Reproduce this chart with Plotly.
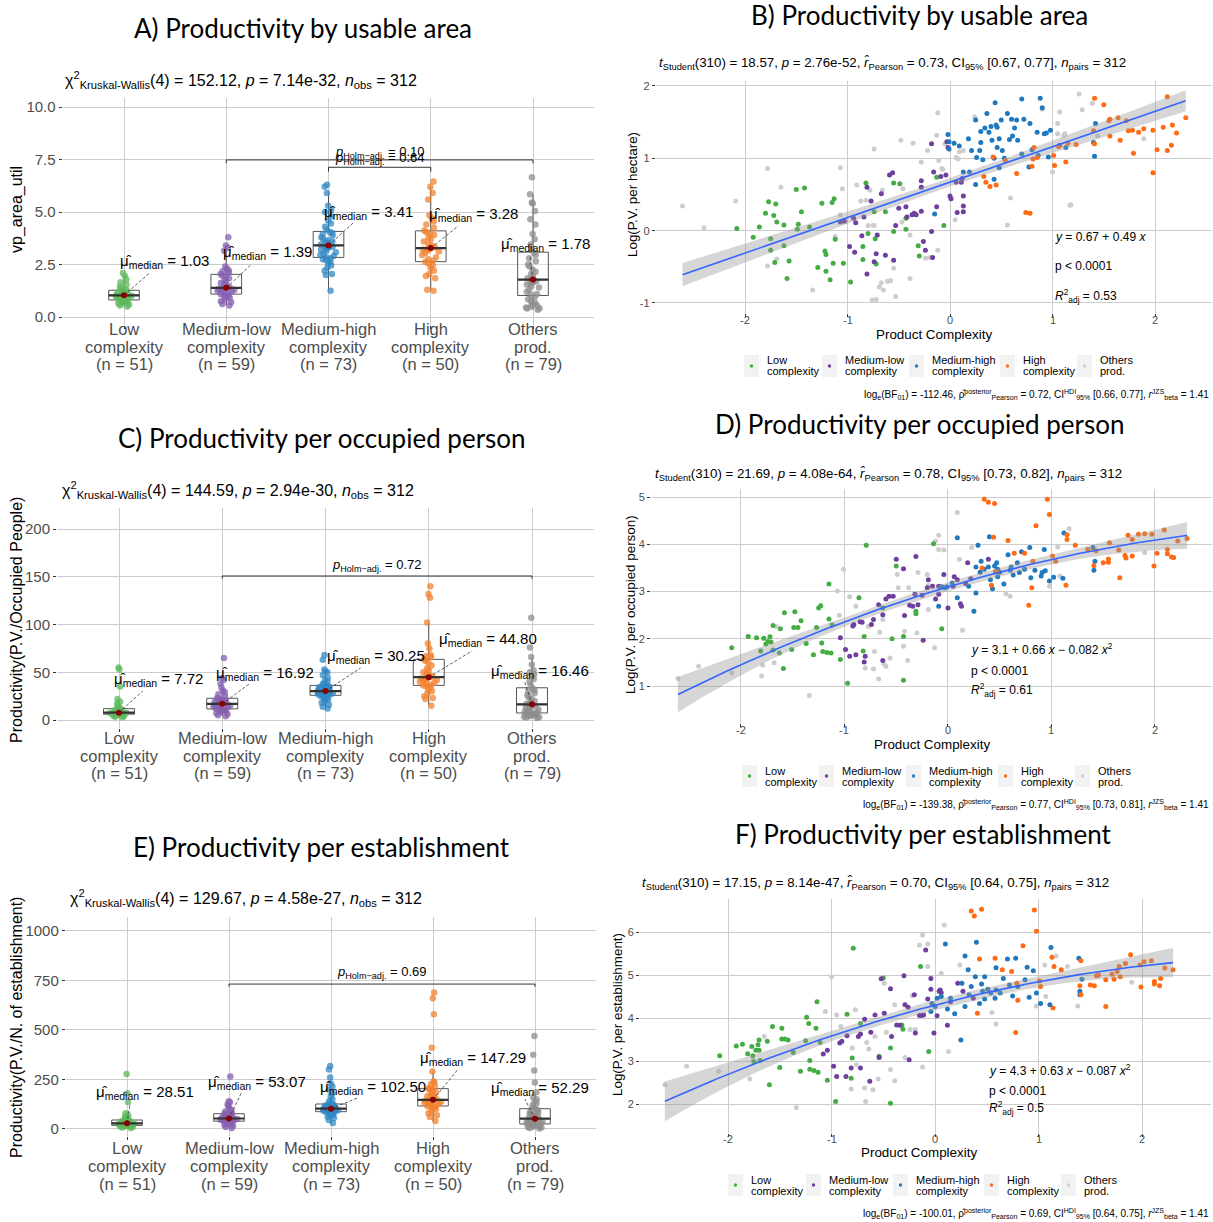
import numpy as np
import plotly.graph_objects as go

W, H = 1213, 1222
FONT = "Liberation Sans, Arial, sans-serif"
NARROW = "Liberation Sans Narrow, Liberation Sans, Arial, sans-serif"
TFONT = "Lato, Liberation Sans, sans-serif"

# ---------------- categories / labels ----------------
cat_line1 = ["Low", "Medium-low", "Medium-high", "High", "Others"]
cat_line2 = ["complexity", "complexity", "complexity", "complexity", "prod."]
cat_n = [51, 59, 73, 50, 79]

box_colors = ["#5CB85A", "#8560B0", "#3288C4", "#F2812F", "#8E8E8E"]
pt_colors = ["#45AC43", "#6E3F9E", "#2079BF", "#FF6A12", "#CDCDCD"]

# ---------------- A) vp_area_util ----------------
A_low = [0.50, 0.55, 0.60, 0.65, 0.68, 0.72, 0.75, 0.78, 0.80, 0.85, 0.88, 0.92, 0.95, 0.98, 1.00, 1.01, 1.02, 1.03,
         1.05, 1.08, 1.10, 1.12, 1.15, 1.18, 1.22, 1.25, 1.28, 1.30, 1.35, 1.45, 1.55, 1.65, 1.80, 1.95, 2.10]
A_medlow = [0.55, 0.62, 0.70, 0.75, 0.82, 0.90, 0.95, 1.00, 1.05, 1.08, 1.12, 1.15, 1.20, 1.25, 1.28, 1.30, 1.33, 1.35,
            1.37, 1.39, 1.42, 1.48, 1.55, 1.62, 1.70, 1.78, 1.85, 1.92, 1.98, 2.05, 2.12, 2.18, 2.22, 2.30, 2.40, 3.15,
            3.30, 3.40, 3.80]
A_medhigh = [1.25, 2.00, 2.05, 2.20, 2.35, 2.45, 2.55, 2.62, 2.70, 2.75, 2.80, 2.85, 2.90, 2.95, 3.00, 3.08, 3.15, 3.20,
             3.25, 3.30, 3.35, 3.38, 3.41, 3.45, 3.50, 3.55, 3.60, 3.65, 3.72, 3.80, 3.88, 3.95, 4.00, 4.05, 4.15, 4.30,
             4.45, 4.60, 4.80, 5.00, 5.10, 5.30, 5.90, 6.20, 6.30]
A_high = [1.25, 1.30, 1.85, 1.95, 2.05, 2.20, 2.35, 2.45, 2.55, 2.62, 2.68, 2.75, 2.85, 2.95, 3.05, 3.12, 3.18, 3.22,
          3.25, 3.28, 3.32, 3.40, 3.50, 3.60, 3.70, 3.80, 3.90, 3.98, 4.05, 4.12, 4.25, 4.40, 4.55, 4.70, 4.85, 5.60,
          5.90, 6.20, 6.45]
A_others = [0.35, 0.40, 0.42, 0.45, 0.50, 0.55, 0.60, 0.68, 0.75, 0.85, 0.95, 1.05, 1.10, 1.20, 1.30, 1.40, 1.48, 1.55,
            1.60, 1.65, 1.70, 1.75, 1.78, 1.85, 1.95, 2.05, 2.15, 2.25, 2.40, 2.50, 2.65, 2.80, 2.95, 3.05, 3.20, 3.45,
            3.70, 3.95, 4.40, 4.65, 5.05, 5.40, 5.45, 5.85, 6.65]

# ---------------- C) per occupied person ----------------
C_low = [3, 3.5, 4, 4.5, 5, 5.2, 5.5, 5.8, 6, 6.3, 6.6, 6.9, 7, 7.2, 7.4, 7.5, 7.6, 7.72, 8, 8.5, 9, 9.5, 10, 10.5, 11,
         11.5, 12, 13, 15, 17, 19, 22, 35, 53, 55]
C_medlow = [4, 5, 6, 7, 8, 9, 10, 10.5, 11, 11.5, 12, 13, 13.5, 14, 14.5, 15, 15.5, 16, 16.5, 16.92, 17.5, 18, 18.5, 19,
            19.5, 20, 21, 21.5, 22, 23, 25, 27, 29, 31, 34, 38, 42, 44, 65]
C_medhigh = [12, 14, 16, 18, 20, 21, 22, 23, 24, 25, 25.5, 26, 26.5, 27, 27.5, 28, 28.5, 29, 29.2, 29.5, 29.8, 30, 30.25,
             30.5, 31, 31.5, 32, 32.5, 33, 33.5, 34, 34.5, 35, 36, 37, 38, 40, 42, 44, 47, 50, 51, 53, 63, 68]
C_high = [15, 22, 23, 25, 28, 30, 32, 34, 35, 36, 37, 38, 39, 40, 41, 42, 43, 43.5, 44, 44.8, 45.5, 47, 48, 50, 52, 54,
          57, 60, 62, 64, 66, 67, 68, 75, 80, 102, 128, 132, 140]
C_others = [2, 2.5, 3, 3.5, 4, 4.5, 5, 5.5, 6, 6.5, 7, 7.5, 8, 9, 10, 11, 12, 13, 14, 14.5, 15, 16, 16.46, 17, 18, 19, 20,
            22, 24, 26, 28, 30, 31, 33, 36, 40, 43, 46, 48, 50, 52, 58, 66, 76, 107]

# ---------------- E) per establishment ----------------
E_low = [5, 8, 10, 12, 14, 15, 16, 17, 18, 19, 20, 21, 22, 24, 25, 26, 27, 28.51, 30, 32, 34, 36, 38, 40, 42, 44, 46, 50,
         55, 60, 70, 80, 135, 180, 278]
E_medlow = [5, 10, 15, 20, 25, 28, 32, 35, 37, 39, 41, 43, 45, 47, 48, 50, 51, 52, 52.5, 53.07, 55, 57, 59, 61, 63, 66,
            69, 72, 75, 78, 82, 88, 95, 105, 115, 125, 135, 140, 265]
E_medhigh = [30, 45, 55, 62, 68, 72, 76, 80, 82, 84, 86, 88, 90, 92, 94, 96, 97, 98, 99, 100, 101, 102, 102.5, 104, 106,
             108, 110, 112, 114, 116, 118, 120, 122, 125, 130, 140, 150, 165, 180, 200, 215, 230, 260, 300, 318]
E_high = [40, 60, 70, 80, 90, 100, 105, 110, 112, 115, 120, 125, 128, 132, 135, 138, 140, 143, 145, 147.29, 150, 155, 160,
          165, 170, 178, 185, 192, 200, 205, 215, 225, 235, 240, 290, 410, 580, 660, 690]
E_others = [3, 5, 8, 10, 12, 15, 18, 20, 22, 24, 25, 26, 28, 30, 33, 36, 38, 41, 44, 46, 48, 50, 52.29, 55, 58, 62, 66,
            70, 75, 80, 85, 90, 95, 100, 110, 120, 130, 140, 150, 160, 185, 235, 295, 375, 470]

# ---------------- B) log per hectare vs complexity ----------------
B_low_x = [-2.08, -1.92, -1.86, -1.80, -1.77, -1.75, -1.75, -1.72, -1.70, -1.69, -1.71, -1.62, -1.62, -1.59, -1.57, -1.50,
           -1.49, -1.48, -1.45, -1.42, -1.37, -1.29, -1.25, -1.22, -1.21, -1.21, -1.17, -1.15, -1.13, -1.14, -1.12, -1.04,
           -0.97, -0.85, -0.85, -0.82, -0.80, -0.73, -0.72, -0.74, -0.63, -0.55, -0.55, -0.49, -0.43, -0.43, -0.31, -0.30,
           -0.13, -0.06]
B_low_y = [0.03, -0.09, 0.05, 0.24, 0.40, -0.11, -0.27, 0.21, 0.37, 0.12, -0.44, -0.21, 0.08, -0.66, -0.42, 0.57, 0.02,
           0.09, 0.26, 0.59, 0.05, -0.51, 0.38, -0.28, -0.33, -0.56, -0.68, 0.39, 0.44, -0.45, -0.12, -0.45, -0.71, -0.22,
           -0.40, 0.66, -0.04, -0.11, -0.46, 0.26, 0.26, 0.66, -0.01, 0.65, 0.17, 0.02, -0.21, -0.35, 0.74, 0.07]
B_medlow_x = [-1.03, -1.07, -0.98, -0.93, -0.94, -0.92, -0.86, -0.84, -0.81, -0.81, -0.77, -0.74, -0.72, -0.71, -0.67,
              -0.63, -0.59, -0.56, -0.55, -0.53, -0.50, -0.43, -0.42, -0.37, -0.35, -0.33, -0.28, -0.28, -0.28, -0.26,
              -0.24, -0.18, -0.18, -0.13, -0.16, -0.09, -0.04, -0.02, -0.03, 0.00, 0.01, 0.06, 0.07, 0.11, 0.13, 0.13,
              0.13, 0.12, -0.17]
B_medlow_y = [0.13, 0.12, -0.22, -0.30, 0.17, 0.11, -0.07, 0.19, 0.60, -0.60, 0.41, -0.43, -0.32, -0.06, 0.51, -0.34,
              0.77, 0.80, -0.41, 0.07, 0.31, 0.33, 0.19, 0.22, 0.24, 0.22, 0.27, 0.69, 0.60, -0.15, -0.27, -0.01, 1.20,
              0.33, 0.81, 0.75, 0.77, 1.15, 1.23, 0.48, 0.44, 0.67, 0.25, 0.67, 0.26, 0.34, 0.48, 0.72, -0.37]
B_medhigh_x = [-0.15, -0.02, -0.01, -0.01, 0.04, 0.09, 0.13, 0.18, 0.19, 0.25, 0.26, 0.25, 0.29, 0.30, 0.32, 0.30, 0.34,
               0.36, 0.38, 0.40, 0.41, 0.43, 0.44, 0.45, 0.46, 0.46, 0.48, 0.48, 0.50, 0.53, 0.56, 0.58, 0.60, 0.61, 0.63,
               0.65, 0.66, 0.70, 0.72, 0.70, 0.77, 0.78, 0.80, 0.86, 0.88, 0.90, 0.92, 0.94, 0.96, 0.98, 1.07, 1.13, 1.40,
               1.42, 1.41, 0.43, 0.51, 0.21, 0.85]
B_medhigh_y = [0.23, 1.33, 1.23, 1.13, 1.21, 1.17, 0.81, 1.27, 0.81, 1.53, 1.01, 0.64, 1.11, 1.22, 0.98, 1.37, 1.42,
               1.62, 1.36, 1.44, 1.25, 0.71, 1.77, 1.46, 1.15, 1.43, 1.27, 0.87, 1.53, 1.00, 1.62, 1.26, 1.54, 1.31, 1.42,
               1.53, 1.25, 1.82, 1.54, 1.06, 0.88, 1.48, 1.12, 1.04, 1.83, 1.70, 1.34, 1.35, 1.02, 1.39, 1.18, 1.15, 1.22,
               1.48, 1.03, 1.00, 1.11, 1.11, 1.36]
B_high_x = [0.33, 0.35, 0.39, 0.42, 0.45, 0.54, 0.65, 0.74, 0.78, 0.81, 0.82, 0.85, 0.80, 1.01, 1.02, 1.06, 1.13, 1.15,
            1.23, 1.41, 1.40, 1.41, 1.50, 1.55, 1.56, 1.56, 1.64, 1.66, 1.72, 1.74, 1.78, 1.79, 1.84, 1.89, 1.98, 1.98,
            2.02, 2.08, 2.12, 2.12, 2.17, 2.16, 2.21, 2.30]
B_high_y = [0.75, 0.67, 0.61, 1.02, 0.63, 0.97, 0.79, 0.25, 0.24, 0.99, 1.15, 1.01, 0.89, 1.04, 0.90, 1.16, 0.95, 1.21,
            1.19, 1.83, 1.38, 1.20, 1.74, 1.52, 1.54, 1.31, 1.56, 1.25, 1.52, 1.38, 1.39, 1.07, 1.36, 1.41, 1.39, 0.80,
            1.12, 1.43, 1.85, 1.11, 1.46, 1.18, 1.35, 1.56]
B_others_x = [-2.61, -2.40, -2.09, -1.78, -1.78, -1.65, -1.69, -1.34, -1.07, -1.05, -1.07, -1.12, -0.91, -0.87, -0.78,
              -0.74, -0.74, -0.76, -0.72, -0.67, -0.65, -0.61, -0.58, -0.55, -0.53, -0.48, -0.39, -0.36, -0.28, -0.28,
              -0.22, -0.20, -0.13, -0.12, -0.12, -0.11, -0.08, -0.05, 0.05, 0.08, 0.13, 0.24, 0.56, 0.59, 0.90, 1.00,
              1.07, 1.05, 1.11, 1.17, 1.26, 1.29, 1.39, 1.44, 1.89, -0.46, -0.24, -0.80, -0.75, -0.66, -0.47, -0.39,
              -0.82, 0.09, 0.06, 1.05, 1.12, -0.07, -0.69, 1.18]
B_others_y = [0.34, 0.04, 0.41, 0.86, -0.49, 0.60, -0.39, -0.82, 0.87, 0.58, 0.22, -0.08, 0.63, 0.41, 0.56, 1.13, 0.07,
              -0.96, -0.95, -0.72, -0.82, -0.70, -0.69, -0.52, -0.91, 1.25, -0.66, 1.21, 0.95, 0.60, 1.11, -0.37, 1.32,
              1.63, -0.27, 0.97, 0.86, 1.20, 0.15, 0.99, 1.11, 1.57, 0.08, 0.45, 1.68, 0.81, 1.64, 1.48, 1.32, 0.35,
              1.89, 1.67, 1.76, 1.31, 1.27, 0.58, -0.38, 0.07, 0.07, 0.56, 0.12, -0.06, 0.42, 1.09, 1.01, 1.34, 1.34,
              0.85, -0.78, 0.36]

# ---------------- D) log per occupied person ----------------
D_low_x = [-2.09, -1.93, -1.85, -1.81, -1.78, -1.76, -1.74, -1.72, -1.71, -1.69, -1.69, -1.63, -1.62, -1.59, -1.58, -1.51,
           -1.49, -1.48, -1.45, -1.42, -1.37, -1.30, -1.27, -1.25, -1.23, -1.22, -1.21, -1.17, -1.13, -1.15, -1.15, -1.12,
           -1.04, -0.97, -0.86, -0.82, -0.81, -0.79, -0.63, -0.54, -0.50, -0.43, -0.43, -0.31, -0.31, -0.14, -0.06]
D_low_y = [1.81, 2.05, 2.02, 1.74, 2.01, 1.89, 1.94, 2.04, 1.93, 2.28, 1.76, 1.70, 2.21, 1.37, 2.55, 1.77, 2.24, 2.57,
           2.24, 2.38, 1.90, 1.66, 2.24, 2.65, 2.70, 1.91, 1.73, 1.71, 1.70, 2.42, 3.16, 2.29, 1.56, 1.06, 2.87, 1.74,
           2.05, 3.98, 2.65, 2.00, 3.54, 2.05, 1.12, 2.58, 2.53, 4.01, 2.21]
D_medlow_x = [-1.04, -0.99, -0.95, -0.92, -0.91, -0.89, -0.85, -0.83, -0.81, -0.80, -0.74, -0.72, -0.67, -0.63, -0.63,
              -0.60, -0.57, -0.53, -0.50, -0.43, -0.42, -0.37, -0.34, -0.32, -0.31, -0.29, -0.24, -0.25, -0.20, -0.19,
              -0.15, -0.12, -0.09, -0.09, -0.04, 0.00, 0.05, 0.06, 0.09, 0.12, 0.13, 0.17, 0.19, 0.22, 0.39, 0.46]
D_medlow_y = [2.02, 1.77, 1.63, 2.27, 2.30, 1.66, 2.36, 2.35, 1.51, 1.63, 2.30, 2.41, 2.72, 1.54, 2.51, 2.84, 2.90, 2.90,
              3.68, 3.48, 2.49, 2.71, 2.69, 2.94, 3.74, 2.72, 1.97, 2.92, 3.08, 3.25, 3.11, 2.84, 3.11, 2.94, 3.36, 2.65,
              3.11, 3.31, 3.25, 2.74, 2.69, 3.17, 3.61, 3.27, 3.68, 3.42]
D_medhigh_x = [-0.09, -0.06, -0.03, -0.01, 0.04, 0.09, 0.09, 0.20, 0.25, 0.27, 0.27, 0.29, 0.31, 0.32, 0.35, 0.39, 0.40,
               0.41, 0.43, 0.45, 0.47, 0.48, 0.48, 0.50, 0.54, 0.58, 0.60, 0.61, 0.63, 0.67, 0.69, 0.71, 0.74, 0.79, 0.80,
               0.84, 0.90, 0.91, 0.93, 0.94, 0.98, 1.02, 1.12, 1.11, 1.40, 1.41, 1.42]
D_medhigh_y = [2.69, 3.10, 3.08, 3.10, 3.18, 2.87, 4.14, 3.11, 2.58, 2.97, 3.52, 3.98, 3.41, 3.64, 3.47, 3.52, 4.16,
               3.25, 3.06, 3.54, 3.61, 3.47, 3.31, 3.41, 3.16, 3.78, 3.45, 3.52, 3.35, 3.61, 3.40, 3.84, 3.47, 3.93, 3.29,
               3.45, 3.33, 3.40, 3.89, 3.44, 3.22, 3.30, 4.24, 3.28, 3.93, 3.45, 3.64]
D_high_x = [0.33, 0.35, 0.39, 0.45, 0.42, 0.44, 0.47, 0.58, 0.64, 0.74, 0.78, 0.81, 0.82, 0.85, 0.96, 0.98, 1.01, 1.04,
            1.14, 1.15, 1.15, 1.23, 1.35, 1.41, 1.43, 1.50, 1.55, 1.56, 1.55, 1.65, 1.66, 1.71, 1.74, 1.72, 1.78, 1.78,
            1.84, 1.90, 1.97, 1.99, 2.02, 2.09, 2.12, 2.12, 2.16, 2.18, 2.22, 2.31]
D_high_y = [3.50, 4.95, 4.89, 4.86, 3.13, 4.15, 3.42, 4.08, 3.81, 3.81, 2.71, 3.08, 3.64, 4.39, 4.95, 4.63, 3.75, 3.64,
            3.13, 4.20, 4.10, 3.98, 3.89, 3.55, 3.86, 3.61, 3.62, 4.03, 3.69, 3.88, 3.29, 3.76, 4.19, 3.71, 3.75, 4.10,
            4.21, 4.22, 4.21, 3.54, 3.81, 4.30, 3.89, 3.80, 3.73, 3.72, 4.07, 4.12]
D_others_x = [-2.61, -2.41, -2.09, -1.80, -1.79, -1.68, -1.66, -1.34, -1.07, -1.05, -1.01, -0.95, -0.89, -0.80, -0.77,
              -0.72, -0.71, -0.67, -0.66, -0.63, -0.62, -0.60, -0.56, -0.49, -0.43, -0.42, -0.39, -0.38, -0.30, -0.29,
              -0.20, -0.19, -0.13, -0.12, -0.09, -0.09, -0.04, 0.09, 0.11, 0.14, 0.23, 0.56, 0.60, 0.98, 1.06, 1.17,
              1.08, 1.90, -0.48, -0.19]
D_others_y = [1.16, 1.42, 1.28, 1.21, 1.44, 1.49, 2.26, 0.80, 3.01, 2.50, 3.47, 2.89, 2.69, 1.38, 2.26, 1.36, 1.73, 1.15,
              2.14, 2.41, 1.47, 1.42, 1.59, 3.36, 1.84, 2.16, 1.54, 3.08, 2.12, 3.40, 3.36, 2.62, 1.81, 4.07, 3.89, 4.19,
              3.88, 4.67, 3.68, 2.18, 3.93, 2.95, 2.90, 3.11, 3.94, 4.33, 3.33, 3.82, 3.08, 3.13]

# ---------------- F) log per establishment ----------------
F_low_x = [-2.08, -1.92, -1.86, -1.81, -1.77, -1.76, -1.75, -1.73, -1.71, -1.70, -1.69, -1.70, -1.62, -1.60, -1.57, -1.50,
           -1.48, -1.48, -1.45, -1.42, -1.37, -1.30, -1.25, -1.24, -1.22, -1.21, -1.21, -1.17, -1.15, -1.13, -1.14, -1.11,
           -1.04, -0.96, -0.85, -0.81, -0.80, -0.79, -0.72, -0.54, -0.50, -0.43, -0.43, -0.32, -0.31, -0.14, -0.06]
F_low_y = [3.12, 3.35, 3.39, 3.17, 3.34, 3.12, 2.98, 3.25, 3.38, 3.25, 3.01, 3.49, 3.46, 2.45, 3.80, 2.85, 3.51, 3.76,
           3.51, 3.49, 3.20, 2.76, 3.47, 4.02, 3.87, 3.01, 2.81, 2.78, 3.76, 2.74, 4.38, 3.43, 2.55, 2.06, 4.09, 2.60,
           3.07, 5.62, 3.87, 3.11, 4.93, 3.30, 2.02, 3.84, 3.74, 5.20, 3.22]
F_medlow_x = [-1.08, -1.04, -0.98, -0.95, -0.92, -0.90, -0.86, -0.85, -0.81, -0.74, -0.72, -0.72, -0.68, -0.63, -0.62,
              -0.58, -0.54, -0.52, -0.49, -0.43, -0.42, -0.37, -0.34, -0.30, -0.29, -0.26, -0.25, -0.20, -0.19, -0.15,
              -0.13, -0.11, -0.09, -0.07, -0.04, -0.04, -0.01, 0.02, 0.04, 0.05, 0.06, 0.12, 0.15, 0.22, 0.27, 0.37]
F_medlow_y = [3.16, 3.25, 2.88, 2.64, 3.42, 3.46, 2.64, 3.59, 2.84, 3.57, 2.84, 3.63, 3.97, 2.53, 3.67, 4.07, 3.08, 4.91,
              4.11, 4.68, 3.57, 3.84, 3.83, 4.98, 4.31, 4.25, 3.03, 4.54, 3.65, 4.06, 4.06, 4.07, 5.58, 4.44, 4.92, 4.67,
              3.65, 4.05, 4.62, 4.65, 4.59, 3.83, 4.38, 4.81, 4.62, 4.46]
F_medhigh_x = [-0.04, -0.03, 0.00, 0.02, 0.06, 0.10, 0.12, 0.15, 0.19, 0.25, 0.26, 0.29, 0.29, 0.32, 0.33, 0.35, 0.39,
               0.40, 0.43, 0.45, 0.46, 0.48, 0.48, 0.51, 0.54, 0.58, 0.59, 0.59, 0.63, 0.66, 0.70, 0.72, 0.75, 0.78, 0.80,
               0.87, 0.89, 0.91, 0.95, 0.98, 1.02, 1.11, 1.12, 1.39, 1.40, 1.40, 1.42]
F_medhigh_y = [4.15, 4.34, 4.27, 4.46, 4.50, 5.72, 4.21, 4.46, 4.10, 3.49, 4.81, 5.44, 4.27, 5.12, 4.54, 4.73, 4.96,
               5.76, 4.34, 4.79, 4.62, 4.44, 4.96, 4.67, 4.58, 4.46, 5.17, 4.65, 4.58, 4.92, 5.37, 4.77, 4.51, 5.39, 4.73,
               4.89, 5.18, 4.48, 5.10, 4.58, 4.34, 4.31, 5.64, 5.39, 4.54, 4.62, 4.90]
F_high_x = [0.35, 0.38, 0.45, 0.41, 0.43, 0.58, 0.65, 0.74, 0.80, 0.78, 0.79, 0.85, 0.96, 0.98, 1.01, 1.02, 1.13, 1.15,
            1.14, 1.22, 1.41, 1.40, 1.41, 1.50, 1.54, 1.56, 1.58, 1.65, 1.65, 1.71, 1.73, 1.76, 1.78, 1.79, 1.84, 1.89,
            1.98, 1.99, 2.02, 2.09, 2.12, 2.12, 2.17, 2.18, 2.22, 2.30]
F_high_y = [6.49, 6.37, 6.53, 4.11, 5.37, 5.39, 5.12, 5.08, 4.41, 3.66, 4.81, 5.68, 6.51, 6.02, 4.86, 4.73, 5.41, 5.20,
            4.23, 5.12, 5.33, 4.75, 4.54, 4.77, 4.75, 4.98, 5.00, 4.27, 4.89, 5.02, 4.90, 5.08, 5.20, 4.96, 5.27, 5.47,
            5.23, 4.72, 5.31, 5.33, 4.85, 4.79, 4.75, 4.92, 5.16, 5.12]
F_others_x = [-2.61, -2.40, -2.09, -1.79, -1.76, -1.65, -1.34, -1.06, -1.00, -0.95, -0.91, -0.77, -0.80, -0.81, -0.76,
              -0.68, -0.67, -0.66, -0.64, -0.60, -0.58, -0.55, -0.49, -0.47, -0.43, -0.39, -0.39, -0.29, -0.22, -0.24,
              -0.19, -0.15, -0.12, -0.12, -0.07, -0.07, 0.06, 0.09, 0.13, 0.24, 0.55, 0.59, 0.98, 1.07, 1.17, 1.28, 1.38,
              1.90, 1.06]
F_others_y = [2.45, 2.88, 2.76, 2.58, 3.01, 3.57, 1.92, 4.15, 4.96, 4.07, 3.80, 4.19, 3.30, 2.35, 2.91, 2.37, 2.06, 3.43,
              3.28, 2.33, 3.57, 2.58, 4.81, 3.67, 2.80, 2.54, 4.31, 3.08, 4.52, 3.73, 3.73, 5.70, 5.93, 2.86, 5.72, 5.20,
              5.04, 6.16, 3.22, 5.23, 4.13, 3.86, 4.28, 4.50, 5.44, 5.20, 4.28, 4.83, 5.23]

# printed model coefficients (intercept, x, x^2) and stats text
fit_B = [0.67, 0.49]
fit_D = [3.1, 0.66, -0.082]
fit_F = [4.3, 0.63, -0.087]
r2_B, r2_D, r2_F = 0.53, 0.61, 0.5
scatter_xticks = [-2, -1, 0, 1, 2]

fig = go.Figure()
shapes = []
annotations = []
axes = {}


def lin(v0, p0, v1, p1):
    return lambda v: p0 + (v - v0) * (p1 - p0) / (v1 - v0)


def add_text(text, px, py, size, color="#000000", family=FONT, xanchor="center", yanchor="middle", angle=0):
    annotations.append(dict(text=text, x=px / W, y=1 - py / H, xref="paper", yref="paper", showarrow=False,
                            xanchor=xanchor, yanchor=yanchor, textangle=angle,
                            font=dict(size=size, color=color, family=family)))


def make_axes(i, xr, xmap, yr, ymap, xkw, ykw):
    s = "" if i == 1 else str(i)
    xd = [max(0, xmap(xr[0]) / W), min(1, xmap(xr[1]) / W)]
    yd = [max(0, 1 - ymap(yr[0]) / H), min(1, 1 - ymap(yr[1]) / H)]
    base = dict(showline=False, zeroline=False, showgrid=True, gridcolor="#CCCCCC", gridwidth=1,
                ticks="outside", ticklen=3, tickcolor="#333333", automargin=False, fixedrange=True)
    axes["xaxis" + s] = dict(base, domain=xd, range=list(xr), anchor="y" + s, **xkw)
    axes["yaxis" + s] = dict(base, domain=yd, range=list(yr), anchor="x" + s, **ykw)
    return ("x" + s, "y" + s)


def box_panel(i, data, cat_px, ypts, yr, yticks, yticktext, labpos, brackets, cat_label_py):
    xmap = lin(1, cat_px[0], 5, cat_px[1])
    ymap = lin(*ypts)
    ppu = abs((ypts[3] - ypts[1]) / (ypts[2] - ypts[0]))
    ax, ay = make_axes(i, (0.4, 5.6), xmap, yr, ymap,
                       dict(tickvals=[1, 2, 3, 4, 5], showticklabels=False),
                       dict(tickvals=yticks, ticktext=yticktext, tickfont=dict(size=15, color="#4D4D4D", family=FONT)))
    for g, vals in enumerate(data):
        fig.add_trace(go.Box(x=[g + 1] * len(vals), y=vals, xaxis=ax, yaxis=ay, boxpoints="all", jitter=0.6,
                             pointpos=0, width=0.3, whiskerwidth=0,
                             marker=dict(color=box_colors[g], size=6.5, opacity=0.75, line=dict(width=0)),
                             line=dict(color="#555555", width=1), fillcolor="rgba(255,255,255,0.35)",
                             showlegend=False, hoverinfo="skip"))
        med = float(np.median(vals))
        fig.add_trace(go.Scatter(x=[g + 1 - 0.15, g + 1 + 0.15], y=[med, med], mode="lines",
                                 line=dict(color="#333333", width=2.2), xaxis=ax, yaxis=ay,
                                 showlegend=False, hoverinfo="skip"))
        lx, ly = labpos[g]
        fig.add_trace(go.Scatter(x=[g + 1, lx - 0.15], y=[med, ly - 11 / ppu], mode="lines",
                                 line=dict(color="#333333", width=0.8, dash="3px,2px"), xaxis=ax, yaxis=ay,
                                 showlegend=False, hoverinfo="skip"))
        fig.add_trace(go.Scatter(x=[g + 1], y=[med], mode="markers", marker=dict(color="#8B0000", size=6),
                                 xaxis=ax, yaxis=ay, showlegend=False, hoverinfo="skip"))
        annotations.append(dict(text=f"μ̂<sub>median</sub> = {med:.2f}", x=lx, y=ly, xref=ax, yref=ay,
                                xanchor="center", yanchor="middle",
                                showarrow=False, font=dict(size=15, color="#000000", family=FONT)))
        for k, (line, py) in enumerate(zip([cat_line1[g], cat_line2[g], f"(n = {cat_n[g]})"], cat_label_py)):
            annotations.append(dict(text=line, x=g + 1, y=1 - py / H, xref=ax, yref="paper", showarrow=False,
                                    xanchor="center", yanchor="middle",
                                    font=dict(size=16.5, color="#4D4D4D", family=FONT)))
    for (x1, x2, ytop, ylow, label, lab_y) in brackets:
        shapes.append(dict(type="path", path=f"M {x1},{ylow} L {x1},{ytop} L {x2},{ytop} L {x2},{ylow}",
                           xref=ax, yref=ay, line=dict(color="#333333", width=1)))
        annotations.append(dict(text=f"<i>p</i><sub>Holm−adj.</sub> = {label}", x=3.5, y=lab_y, xref=ax, yref=ay,
                                xanchor="center", yanchor="middle",
                                showarrow=False, font=dict(size=13, color="#000000", family=FONT)))


def scatter_panel(i, xs_list, ys_list, xpts, xr, ypts, yr, yticks, coefs, ann_x, ann_ys, r2, xtick_py):
    xmap = lin(*xpts)
    ymap = lin(*ypts)
    tf = dict(size=11, color="#4D4D4D", family=FONT)
    ax, ay = make_axes(i, xr, xmap, yr, ymap,
                       dict(tickvals=scatter_xticks, showticklabels=False),
                       dict(tickvals=yticks, ticktext=[str(t) for t in yticks], tickfont=tf))
    for t in scatter_xticks:
        annotations.append(dict(text=str(t), x=t, y=1 - xtick_py / H, xref=ax, yref="paper", showarrow=False,
                                xanchor="center", yanchor="middle", font=tf))
    order = [4, 0, 1, 2, 3]
    allx, ally = [], []
    for g in order:
        n = min(len(xs_list[g]), len(ys_list[g]))
        xs, ys = xs_list[g][:n], ys_list[g][:n]
        allx += xs
        ally += ys
        fig.add_trace(go.Scatter(x=xs, y=ys, mode="markers", xaxis=ax, yaxis=ay,
                                 marker=dict(color=pt_colors[g], size=5, line=dict(width=0)),
                                 showlegend=False, hoverinfo="skip"))
    X = np.array(allx)
    Y = np.array(ally)
    p = len(coefs)
    c = np.array(coefs)
    M = np.vander(X, p, increasing=True)
    res = Y - M @ c
    s2 = res @ res / (len(X) - p)
    cov = s2 * np.linalg.inv(M.T @ M)
    grid = np.linspace(X.min(), X.max(), 120)
    G = np.vander(grid, p, increasing=True)
    yhat = G @ c
    se = np.sqrt(np.einsum("ij,jk,ik->i", G, cov, G))
    lo, hi = yhat - 1.97 * se, yhat + 1.97 * se
    fig.add_trace(go.Scatter(x=np.concatenate([grid, grid[::-1]]), y=np.concatenate([hi, lo[::-1]]),
                             fill="toself", fillcolor="rgba(153,153,153,0.4)", line=dict(width=0), mode="lines",
                             xaxis=ax, yaxis=ay, showlegend=False, hoverinfo="skip"))
    fig.add_trace(go.Scatter(x=grid, y=yhat, mode="lines", line=dict(color="#3366FF", width=1.6),
                             xaxis=ax, yaxis=ay, showlegend=False, hoverinfo="skip"))
    eq = f"<i>y</i> = {coefs[0]:g} + {coefs[1]:g} <i>x</i>"
    if p == 3:
        eq += f" − {abs(coefs[2]):g} <i>x</i><sup>2</sup>"
    for txt, yy in zip([eq, "p &lt; 0.0001", f"<i>R</i><sup>2</sup><sub>adj</sub> = {r2:g}"], ann_ys):
        annotations.append(dict(text=txt, x=ann_x, y=yy, xref=ax, yref=ay, xanchor="left", yanchor="middle",
                                showarrow=False, font=dict(size=12, color="#000000", family=NARROW)))


def legend_row(py, label_px):
    for g, lx in enumerate(label_px):
        kx = lx - 21
        shapes.append(dict(type="rect", xref="paper", yref="paper", x0=kx / W, x1=(kx + 15) / W,
                           y0=1 - (py + 11) / H, y1=1 - (py - 11) / H, fillcolor="#F2F2F2", line=dict(width=0),
                           layer="below"))
        shapes.append(dict(type="circle", xref="paper", yref="paper", x0=(kx + 5.8) / W, x1=(kx + 9.2) / W,
                           y0=1 - (py + 1.7) / H, y1=1 - (py - 1.7) / H, fillcolor=pt_colors[g],
                           line=dict(width=0)))
        add_text(cat_line1[g], lx, py - 5.5, 11, xanchor="left")
        add_text(cat_line2[g], lx, py + 5.5, 11, xanchor="left")


# ---------- box panels ----------
box_panel(1, [A_low, A_medlow, A_medhigh, A_high, A_others], (124, 533), (0, 317, 10, 107), (-0.4, 10.43),
          [0, 2.5, 5, 7.5, 10], ["0.0", "2.5", "5.0", "7.5", "10.0"],
          [(1.40, 2.62), (2.40, 3.05), (3.39, 5.0), (4.42, 4.86), (5.12, 3.43)],
          [(2, 5, 7.48, 7.32, "0.10", 7.82), (3, 4, 7.13, 6.92, "0.64", 7.57)], (329, 347, 364))
box_panel(3, [C_low, C_medlow, C_medhigh, C_high, C_others], (119, 532), (0, 720, 200, 529), (-8, 222),
          [0, 50, 100, 150, 200], ["0", "50", "100", "150", "200"],
          [(1.38, 41.9), (2.41, 49.2), (3.49, 66), (4.57, 83.8), (5.08, 51.3)],
          [(2, 5, 150.8, 148.0, "0.72", 162)], (738, 756, 773))
box_panel(5, [E_low, E_medlow, E_medhigh, E_high, E_others], (127, 535), (0, 1129, 1000, 931), (-37, 1069),
          [0, 250, 500, 750, 1000], ["0", "250", "500", "750", "1000"],
          [(1.18, 182), (2.27, 237), (3.41, 212), (4.39, 354), (5.05, 207)],
          [(2, 5, 732, 718, "0.69", 788)], (1148, 1166, 1184))

# ---------- scatter panels ----------
scatter_panel(2, [B_low_x, B_medlow_x, B_medhigh_x, B_high_x, B_others_x],
              [B_low_y, B_medlow_y, B_medhigh_y, B_high_y, B_others_y],
              (-2, 745, 2, 1155), (-2.87, 2.56), (-1, 303, 2, 86), (-1.14, 2.07), [-1, 0, 1, 2],
              fit_B, 1.0, [-0.09, -0.49, -0.90], r2_B, 320)
scatter_panel(4, [D_low_x, D_medlow_x, D_medhigh_x, D_high_x, D_others_x],
              [D_low_y, D_medlow_y, D_medhigh_y, D_high_y, D_others_y],
              (-2, 741, 2, 1155), (-2.87, 2.55), (1, 686, 5, 497), (0.22, 5.16), [1, 2, 3, 4, 5],
              fit_D, 0.20, [1.78, 1.31, 0.92], r2_D, 730)
scatter_panel(6, [F_low_x, F_medlow_x, F_medhigh_x, F_high_x, F_others_x],
              [F_low_y, F_medlow_y, F_medhigh_y, F_high_y, F_others_y],
              (-2, 728, 2, 1142), (-2.85, 2.67), (2, 1104, 6, 932), (1.32, 6.76), [2, 3, 4, 5, 6],
              fit_F, 0.50, [2.78, 2.31, 1.91], r2_F, 1139)

# ---------- titles ----------
add_text("A) Productivity by usable area", 303, 28, 26, family=TFONT)
add_text("B) Productivity by usable area", 919, 15, 26, family=TFONT)
add_text("C) Productivity per occupied person", 322, 438, 26, family=TFONT)
add_text("D) Productivity per occupied person", 919, 424, 26, family=TFONT)
add_text("E) Productivity per establishment", 321, 847, 26, family=TFONT)
add_text("F) Productivity per establishment", 923, 834, 26, family=TFONT)

kw = "χ<sup>2</sup><sub>Kruskal-Wallis</sub>(4) = {}, <i>p</i> = {}, <i>n</i><sub>obs</sub> = 312"
add_text(kw.format("152.12", "7.14e-32"), 63, 80, 16, xanchor="left")
add_text(kw.format("144.59", "2.94e-30"), 60, 490, 16, xanchor="left")
add_text(kw.format("129.67", "4.58e-27"), 68, 898, 16, xanchor="left")

add_text("vp_area_util", 17, 210, 16, angle=-90)
add_text("Productivity(P.V./Occupied People)", 16, 620, 16, angle=-90)
add_text("Productivity(P.V./N. of establishment)", 16, 1028, 16, angle=-90)

st = ("<i>t</i><sub>Student</sub>(310) = {}, <i>p</i> = {}, <i>r̂</i><sub>Pearson</sub> = {}, "
      "CI<sub>95%</sub> [{}], <i>n</i><sub>pairs</sub> = 312")
add_text(st.format("18.57", "2.76e-52", "0.73", "0.67, 0.77"), 657, 64, 13.3, family=NARROW, xanchor="left")
add_text(st.format("21.69", "4.08e-64", "0.78", "0.73, 0.82"), 653, 474, 13.3, family=NARROW, xanchor="left")
add_text(st.format("17.15", "8.14e-47", "0.70", "0.64, 0.75"), 640, 883, 13.3, family=NARROW, xanchor="left")

add_text("Product Complexity", 934, 334, 13.4)
add_text("Product Complexity", 932, 744, 13.4)
add_text("Product Complexity", 919, 1152, 13.4)
add_text("Log(P.V. per hectare)", 633, 195, 13.4, angle=-90)
add_text("Log(P.V. per occupied person)", 630, 605, 13.4, angle=-90)
add_text("Log(P.V. per establishment)", 617, 1015, 13.4, angle=-90)

legend_row(366, [765, 843, 930, 1021, 1098])
legend_row(776, [763, 840, 927, 1019, 1096])
legend_row(1185, [749, 827, 914, 1005, 1082])

cap = ("log<sub>e</sub>(BF<sub>01</sub>) = {}, ρ̂<sup>posterior</sup><sub>Pearson</sub> = {}, "
       "CI<sup>HDI</sup><sub>95%</sub> [{}], <i>r</i><sup>JZS</sup><sub>beta</sub> = 1.41")
add_text(cap.format("-112.46", "0.72", "0.66, 0.77"), 1211, 394, 10, family=NARROW, xanchor="right")
add_text(cap.format("-139.38", "0.77", "0.73, 0.81"), 1211, 804, 10, family=NARROW, xanchor="right")
add_text(cap.format("-100.01", "0.69", "0.64, 0.75"), 1211, 1213, 10, family=NARROW, xanchor="right")

fig.update_layout(width=W, height=H, margin=dict(l=0, r=0, t=0, b=0), template="none",
                  paper_bgcolor="white", plot_bgcolor="white", showlegend=False, boxmode="overlay",
                  annotations=annotations, shapes=shapes, font=dict(family=FONT), **axes)
fig.write_html("out.html", config={"displayModeBar": False},
               post_script="document.body.style.margin='0px'; document.body.style.overflow='hidden';")
